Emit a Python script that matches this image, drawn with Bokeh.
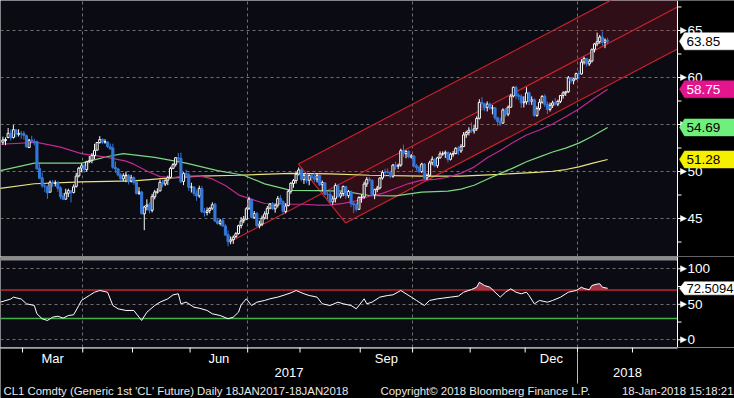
import numpy as np
from bokeh.plotting import figure
from bokeh.layouts import column
from bokeh.models import Range1d, FixedTicker
from bokeh.core.properties import value
from bokeh.embed import file_html
from bokeh.resources import INLINE

# ---------------- data (trading-day index 0 = 16 Feb 2017) ----------------
opens = [53.11, 53.30, 53.62, 54.08, 53.62, 54.43, 53.96, 54.04, 54.05, 53.81,
         52.55, 53.36, 53.19, 53.17, 50.31, 49.34, 48.44, 48.38, 47.80, 48.85,
         48.74, 48.80, 48.26, 47.39, 47.06, 47.69, 47.94, 47.77, 48.42, 49.54,
         50.36, 50.61, 50.20, 51.04, 51.20, 51.69, 52.27, 53.07, 53.42, 53.12,
         53.13, 52.64, 52.50, 50.44, 50.28, 49.64, 49.22, 49.55, 49.60, 48.99,
         49.35, 48.87, 47.68, 47.83, 45.50, 46.30, 46.50, 45.87, 47.31, 47.80,
         47.93, 48.84, 48.67, 49.08, 49.38, 50.34, 50.76, 51.46, 51.40, 48.94,
         49.80, 49.66, 48.33, 48.34, 47.67, 47.42, 48.17, 45.75, 45.65, 45.86,
         46.10, 46.52, 44.73, 44.48, 44.78, 44.20, 43.28, 42.60, 42.75, 43.08,
         43.40, 44.26, 44.77, 44.94, 46.09, 47.05, 45.12, 45.55, 44.22, 44.41,
         45.08, 45.50, 46.10, 46.55, 46.03, 46.42, 47.15, 46.80, 45.75, 46.38,
         47.90, 48.72, 49.03, 49.72, 50.18, 49.15, 49.62, 49.07, 49.59, 49.40,
         49.20, 49.57, 48.60, 48.80, 47.59, 47.56, 46.78, 47.10, 48.49, 47.38,
         47.66, 48.40, 47.44, 47.86, 46.60, 46.46, 45.98, 47.24, 47.30, 48.68,
         49.19, 49.08, 47.50, 48.08, 48.25, 49.32, 49.90, 49.92, 49.93, 49.50,
         50.70, 50.56, 50.69, 52.23, 51.90, 52.15, 51.55, 51.65, 50.60, 50.44,
         50.00, 50.80, 49.30, 49.60, 50.93, 51.31, 50.62, 51.46, 51.88, 51.90,
         52.05, 51.30, 51.85, 51.91, 52.48, 52.19, 52.66, 53.91, 54.16, 54.40,
         54.32, 54.56, 55.66, 57.36, 57.21, 56.82, 57.18, 56.75, 56.77, 55.71,
         55.34, 55.15, 56.56, 56.10, 56.84, 58.03, 58.96, 58.12, 58.00, 57.31,
         57.41, 58.37, 57.48, 57.63, 55.97, 56.70, 57.37, 58.00, 57.15, 56.61,
         57.05, 57.31, 57.17, 57.47, 58.10, 58.37, 58.48, 59.98, 59.65, 59.85,
         60.43, 60.38, 61.64, 62.02, 61.45, 61.74, 63.00, 63.58, 63.81, 64.31,
         63.74, 63.96]
highs = [53.70, 53.63, 54.62, 54.45, 54.94, 54.52, 54.49, 54.32, 54.30, 53.92,
         53.47, 53.80, 53.49, 53.30, 50.78, 49.90, 48.70, 48.54, 49.04, 49.10,
         49.06, 48.99, 48.44, 47.72, 48.17, 48.17, 48.04, 48.62, 49.85, 50.48,
         50.85, 50.86, 51.14, 51.66, 51.96, 52.94, 53.13, 53.76, 53.52, 53.44,
         53.20, 52.99, 52.95, 51.05, 50.34, 49.84, 49.81, 49.98, 49.72, 49.65,
         49.48, 48.98, 48.34, 47.94, 46.37, 47.04, 46.71, 47.63, 48.04, 48.22,
         49.12, 49.10, 49.15, 49.56, 50.51, 50.91, 51.51, 51.97, 52.00, 49.93,
         50.20, 49.90, 48.80, 48.44, 48.06, 48.49, 48.45, 46.13, 46.18, 46.21,
         46.72, 46.67, 45.00, 44.96, 45.05, 44.41, 43.73, 43.09, 43.20, 43.55,
         44.34, 45.15, 45.27, 46.21, 47.32, 47.12, 45.80, 45.68, 44.76, 45.32,
         45.76, 46.33, 46.65, 46.74, 46.56, 47.40, 47.49, 46.95, 46.61, 48.06,
         48.86, 49.20, 49.95, 50.43, 50.40, 49.75, 49.84, 49.71, 49.73, 49.87,
         49.79, 49.67, 49.04, 48.86, 47.82, 48.04, 47.42, 48.74, 48.70, 47.81,
         48.50, 48.48, 48.04, 47.99, 46.78, 46.70, 47.36, 47.57, 48.93, 49.40,
         49.42, 49.14, 48.17, 48.48, 49.38, 50.12, 50.29, 50.32, 50.07, 50.79,
         51.02, 50.84, 52.43, 52.86, 52.28, 52.25, 51.85, 51.72, 50.79, 50.64,
         50.93, 50.90, 49.80, 51.14, 51.61, 51.40, 51.57, 52.14, 52.14, 52.23,
         52.09, 52.02, 52.20, 52.59, 52.71, 52.91, 54.20, 54.34, 54.70, 55.22,
         54.98, 55.87, 57.69, 57.92, 57.33, 57.46, 57.33, 57.07, 56.88, 55.82,
         55.72, 56.72, 56.76, 57.03, 58.25, 59.05, 59.12, 58.31, 58.23, 58.00,
         58.96, 58.51, 57.99, 57.79, 56.94, 57.71, 58.12, 58.21, 57.45, 57.32,
         57.53, 57.82, 57.64, 58.13, 58.55, 58.58, 60.16, 60.05, 59.96, 60.51,
         60.74, 61.95, 62.21, 62.04, 61.97, 63.09, 63.67, 64.77, 64.53, 64.89,
         64.15, 64.23]
lows = [52.83, 52.80, 53.55, 53.30, 53.50, 53.64, 53.72, 53.48, 53.41, 52.55,
        52.50, 53.05, 52.78, 50.22, 49.18, 48.25, 47.81, 47.09, 47.78, 48.36,
        48.41, 47.85, 47.06, 47.01, 47.00, 47.29, 46.71, 47.67, 48.29, 49.38,
        49.92, 49.87, 49.99, 50.89, 50.88, 51.33, 52.22, 52.98, 52.91, 52.96,
        52.50, 52.30, 50.28, 49.85, 49.47, 48.98, 48.98, 48.86, 48.63, 48.84,
        48.59, 47.56, 47.50, 45.39, 43.76, 45.86, 45.55, 45.65, 47.04, 47.64,
        47.91, 48.32, 48.46, 48.55, 49.27, 50.25, 50.53, 51.05, 48.76, 48.55,
        49.33, 47.95, 47.76, 47.38, 46.88, 47.20, 45.58, 45.20, 45.33, 45.55,
        45.92, 44.60, 44.35, 44.26, 44.13, 43.20, 42.05, 42.26, 42.30, 42.94,
        43.30, 43.95, 44.51, 44.88, 45.90, 45.02, 44.97, 44.14, 43.95, 44.19,
        44.90, 44.91, 45.98, 45.95, 45.62, 46.17, 46.50, 45.40, 45.55, 46.28,
        47.63, 48.27, 48.72, 49.58, 48.94, 48.69, 48.74, 48.54, 49.04, 48.89,
        48.84, 48.45, 47.88, 47.48, 47.04, 46.61, 46.47, 46.70, 47.19, 47.15,
        47.37, 47.08, 47.19, 46.21, 45.58, 45.75, 45.94, 46.68, 47.12, 48.36,
        48.91, 47.35, 47.06, 47.80, 48.09, 49.14, 49.43, 49.75, 49.28, 49.33,
        50.20, 50.27, 50.50, 51.57, 51.41, 51.40, 51.38, 50.42, 50.10, 49.83,
        49.84, 49.11, 49.10, 49.44, 50.66, 50.44, 50.39, 51.37, 51.67, 51.44,
        50.97, 51.17, 51.57, 51.83, 51.76, 51.99, 52.59, 53.58, 53.84, 54.12,
        54.02, 54.33, 55.54, 56.71, 56.42, 56.39, 56.54, 56.08, 55.46, 54.85,
        54.86, 55.09, 55.84, 55.88, 56.79, 57.88, 57.69, 57.63, 56.75, 56.81,
        57.12, 57.05, 57.09, 55.82, 55.82, 56.49, 57.22, 56.87, 56.10, 56.38,
        56.76, 57.00, 56.95, 57.28, 57.75, 58.04, 58.36, 59.33, 59.27, 59.78,
        59.82, 60.30, 61.38, 61.16, 61.23, 61.60, 62.66, 63.33, 63.59, 63.38,
        63.12, 63.54]
closes = [53.36, 53.40, 54.06, 53.59, 54.45, 53.99, 54.05, 54.01, 53.83, 52.61,
          53.33, 53.20, 53.14, 50.28, 49.28, 48.49, 48.40, 47.72, 48.86, 48.75,
          48.78, 48.22, 47.34, 47.04, 47.70, 47.97, 47.73, 48.37, 49.51, 50.35,
          50.60, 50.24, 51.03, 51.15, 51.70, 52.24, 53.08, 53.40, 53.11, 53.18,
          52.65, 52.41, 50.44, 50.27, 49.62, 49.23, 49.56, 49.62, 48.97, 49.33,
          48.84, 47.66, 47.82, 45.52, 46.22, 46.43, 45.88, 47.33, 47.83, 47.84,
          48.85, 48.66, 49.07, 49.35, 50.33, 50.73, 51.47, 51.36, 48.90, 49.80,
          49.66, 48.32, 48.36, 47.66, 47.40, 48.19, 45.72, 45.64, 45.83, 46.08,
          46.46, 44.73, 44.46, 44.74, 44.20, 43.23, 42.53, 42.74, 43.01, 43.38,
          44.24, 44.74, 44.93, 46.04, 47.07, 45.13, 45.52, 44.23, 44.40, 45.04,
          45.49, 46.08, 46.54, 46.02, 46.40, 47.12, 46.79, 45.77, 46.34, 47.89,
          48.75, 49.04, 49.71, 50.17, 49.16, 49.59, 49.03, 49.58, 49.39, 49.17,
          49.56, 48.59, 48.82, 47.59, 47.55, 46.78, 47.09, 48.51, 47.37, 47.64,
          48.41, 47.43, 47.87, 46.57, 46.44, 45.96, 47.23, 47.29, 48.66, 49.16,
          49.09, 47.48, 48.07, 48.23, 49.30, 49.89, 49.89, 49.91, 49.48, 50.69,
          50.55, 50.66, 52.22, 51.88, 52.14, 51.56, 51.67, 50.58, 50.42, 49.98,
          50.79, 49.29, 49.58, 50.92, 51.30, 50.60, 51.45, 51.87, 51.88, 52.04,
          51.29, 51.84, 51.90, 52.47, 52.18, 52.64, 53.90, 54.15, 54.38, 54.30,
          54.54, 55.64, 57.35, 57.20, 56.81, 57.17, 56.74, 56.76, 55.70, 55.33,
          55.14, 56.55, 56.09, 56.83, 58.02, 58.95, 58.11, 57.99, 57.30, 57.40,
          58.36, 57.47, 57.62, 55.96, 56.69, 57.36, 57.99, 57.14, 56.60, 57.04,
          57.30, 57.16, 57.46, 58.09, 58.36, 58.47, 59.97, 59.64, 59.84, 60.42,
          60.37, 61.63, 62.01, 61.44, 61.73, 62.96, 63.57, 63.80, 64.30, 63.73,
          63.97, 63.85]

ma50_idx = [-1, 13, 22, 30, 40, 47, 50, 55, 60, 65, 70, 75, 80, 85, 90, 95, 100, 105,
            110, 115, 120, 125, 130, 135, 140, 145, 150, 155, 160, 165, 170, 175,
            180, 185, 190, 195, 200, 205, 210, 215, 220, 225, 231]
ma50_val = [52.9, 53.1, 52.6, 51.9, 51.5, 51.1, 50.78, 50.06, 49.46, 49.34, 49.51,
            49.54, 49.21, 48.51, 47.52, 47.04, 46.60, 46.57, 46.53, 46.52, 46.43,
            46.42, 46.61, 46.87, 47.37, 47.67, 48.19, 48.72, 49.08, 49.16, 49.39,
            49.83, 50.47, 51.47, 52.24, 53.11, 53.88, 54.41, 55.06, 55.82, 56.65,
            57.63, 58.75]
ma100_idx = [-1, 12, 30, 40, 46, 58, 70, 82, 92, 100, 110, 120, 130, 140, 150, 160,
             170, 175, 180, 185, 190, 195, 200, 205, 210, 215, 220, 225, 231]
ma100_val = [50.1, 50.9, 50.9, 51.6, 51.9, 51.5, 50.9, 50.1, 49.6, 48.69, 48.00,
             47.97, 47.91, 47.45, 47.40, 47.80, 47.91, 48.12, 48.54, 49.17, 49.80,
             50.39, 51.04, 51.56, 52.07, 52.49, 53.02, 53.73, 54.69]
ma200_idx = [-1, 12, 30, 50, 63, 75, 90, 110, 125, 140, 160, 175, 190, 200, 205,
             210, 215, 220, 225, 231]
ma200_val = [48.2, 48.7, 48.9, 49.0, 49.3, 49.5, 49.6, 49.8, 49.75, 49.6, 49.5,
             49.5, 49.7, 49.86, 49.94, 50.03, 50.21, 50.50, 50.86, 51.28]

rsi_idx = [-1, 3, 4, 7, 9, 12, 13, 15, 17, 19, 21, 23, 25, 27, 29, 30, 33, 35, 37,
           40, 42, 44, 47, 50, 52, 53, 55, 58, 60, 63, 65, 67, 68, 70, 73, 75, 78,
           80, 83, 86, 88, 90, 91, 93, 95, 97, 100, 102, 105, 107, 110, 112, 115,
           117, 120, 122, 125, 128, 130, 133, 135, 138, 139, 141, 144, 147, 149,
           152, 154, 156, 158, 159, 161, 163, 166, 168, 171, 174, 176, 179, 181,
           182, 184, 186, 188, 190, 192, 194, 196, 198, 200, 201, 203, 205, 208,
           210, 213, 216, 219, 221, 222, 224, 225, 227, 228, 229, 231]
rsi_val = [53.0, 57.4, 60.1, 57.4, 50.7, 48.3, 36.6, 29.6, 27.2, 31.9, 33.2, 30.5,
           34.2, 35.2, 48.3, 55.4, 62.4, 67.0, 69.4, 67.0, 48.3, 43.6, 41.3, 41.3,
           31.9, 27.2, 38.9, 48.3, 53.0, 57.7, 63.3, 64.8, 50.7, 53.0, 45.9, 44.5,
           41.3, 36.6, 34.2, 29.6, 31.9, 38.9, 49.2, 57.7, 48.3, 53.0, 55.4, 57.7,
           60.1, 62.4, 66.1, 69.4, 64.8, 62.4, 60.1, 50.7, 48.3, 53.0, 50.7, 48.3,
           43.6, 57.7, 50.7, 53.0, 60.1, 62.4, 63.3, 69.4, 64.8, 60.1, 55.4, 53.0,
           48.3, 55.4, 57.7, 58.6, 60.1, 61.5, 67.0, 70.8, 74.1, 81.0, 76.4, 74.1,
           67.0, 60.1, 67.0, 71.8, 67.0, 64.8, 67.0, 62.4, 50.7, 55.4, 53.0, 55.4,
           60.0, 67.0, 69.4, 74.1, 72.3, 70.5, 76.5, 78.5, 78.9, 74.1, 72.5094]

# channel (regression trend channel) parameters
CH_X0, CH_Y0, CH_SLOPE, CH_HALF = 86.2, 42.45, 0.146, 4.45
CH_UP_X0, CH_LO_X0 = 112.9, 130.9

# axis ticks / labels
month_bounds = [7.5, 30.5, 49.5, 71.5, 93.5, 113.5, 136.5, 156.5, 178.5, 199.5, 219.5, 240.5]
quarter_bounds = [30.5, 93.5, 156.5, 219.5]
month_label_pos = [19.0, 82.5, 146.5, 209.5]
month_labels = ["Mar", "Jun", "Sep", "Dec"]
year_bound = 219.5
year_labels = ["2017", "2018"]
price_ticks = [45, 50, 55, 60, 65]
price_minor = [42.5, 47.5, 52.5, 57.5, 62.5, 67.5]
rsi_ticks = [0, 50, 100]
rsi_minor = [25, 75]
RSI_HI, RSI_LO = 70, 30
last_labels = [("63.85", 63.85, "#ffffff", "#000000"),
               ("58.75", 58.75, "#e2158f", "#ffffff"),
               ("54.69", 54.69, "#6ff07c", "#000000"),
               ("51.28", 51.28, "#f6ef00", "#000000")]
rsi_last = ("72.5094", 72.5094)
footer_left = "CL1 Comdty (Generic 1st 'CL' Future)  Daily 18JAN2017-18JAN2018"
footer_mid = "Copyright\u00a9 2018 Bloomberg Finance L.P."
footer_right = "18-Jan-2018 15:18:21"

# ---------------- styling / layout ----------------
FONT = "Liberation Sans"
BG_PLOT = "#0b0b13"
BG = "#000000"
GRID = "#707070"
BLUE = "#3478d8"
RED = "#c8222c"
W, AXIS_W = 734, 57
H_MAIN, H_RSI, H_BOT = 256, 91, 51
X0, X1 = -0.92, 257.7                     # plotted (frame) part of the time axis
ppd = (W - AXIS_W) / (X1 - X0)            # pixels per trading day
XF = X0 + W / ppd                          # right edge of the canvas in data units
xr = Range1d(X0, XF)
P_LO, P_HI = 40.96, 68.19
R_LO, R_HI = -10.85, 117.3


def dx(px):
    return px / ppd


idx = np.arange(len(closes))
o = np.array(opens); h = np.array(highs); l = np.array(lows); c = np.array(closes)
up = c >= o
dn = ~up
body_top = np.maximum(o, c)
body_bot = np.minimum(o, c)


def base_fig(height, lo, hi, bg=BG_PLOT):
    f = figure(width=W, height=height, x_range=xr, y_range=Range1d(lo, hi),
               output_backend="svg", toolbar_location=None,
               y_axis_location=None, x_axis_location=None,
               min_border_left=0, min_border_right=0,
               min_border_top=0, min_border_bottom=0,
               background_fill_color=bg, border_fill_color=BG,
               outline_line_color=None)
    return f


def style_grid(f, yticks):
    f.xgrid.ticker = FixedTicker(ticks=quarter_bounds)
    f.xgrid.grid_line_color = GRID
    f.xgrid.grid_line_dash = "3 3"
    f.ygrid.ticker = FixedTicker(ticks=yticks)
    f.ygrid.grid_line_color = GRID
    f.ygrid.grid_line_dash = "3 3"


def right_axis(f, ticks, minor, lo, hi, upp, labels):
    # black axis strip, axis line, minor ticks, arrow-shaped major ticks, labels
    f.quad(left=[X1], right=[XF], bottom=[lo], top=[hi], fill_color=BG, line_color=None)
    f.segment([X1], [lo], [X1], [hi], line_color="white", line_width=1)
    n_m = len(minor)
    f.segment([X1] * n_m, minor, [X1 + dx(4)] * n_m, minor, line_color="white", line_width=1)
    n = len(ticks)
    f.segment([X1] * n, ticks, [X1 + dx(4)] * n, ticks, line_color="white", line_width=1)
    f.patches([[X1 + dx(3), X1 + dx(9), X1 + dx(3)] for _ in ticks],
              [[t + 3 * upp, t, t - 3 * upp] for t in ticks],
              fill_color="white", line_color="white", line_width=0.5)
    f.text([X1 + dx(10)] * n, ticks, text=labels, text_color="white",
           text_font=value(FONT), text_font_size="13.5px",
           text_align="left", text_baseline="middle")


def value_box(f, text, y, bg, fg, hpx, upp, size):
    half = hpx / 2 * upp
    f.patch([X1 + dx(2), X1 + dx(7), XF, XF, X1 + dx(7)],
            [y, y + half, y + half, y - half, y - half],
            fill_color=bg, line_color=bg, line_width=0.5)
    f.text([X1 + dx(9)], [y], text=[text], text_color=fg, text_font=value(FONT),
           text_font_size=size, text_align="left", text_baseline="middle")


# ---------------- main price panel ----------------
p1 = base_fig(H_MAIN, P_LO, P_HI)
style_grid(p1, price_ticks)
upp1 = (P_HI - P_LO) / H_MAIN


def ch_mid(x):
    return CH_Y0 + CH_SLOPE * (x - CH_X0)


p1.patch([CH_UP_X0, X1, X1, CH_LO_X0],
         [ch_mid(CH_UP_X0) + CH_HALF, ch_mid(X1) + CH_HALF,
          ch_mid(X1) - CH_HALF, ch_mid(CH_LO_X0) - CH_HALF],
         fill_color="#d01e2c", fill_alpha=0.18, line_color=RED, line_width=1.2)
p1.line([CH_X0, X1], [ch_mid(CH_X0), ch_mid(X1)], line_color=RED, line_width=1.2)

p1.line(ma200_idx, ma200_val, line_color="#e9e57c", line_width=1.2)
p1.line(ma100_idx, ma100_val, line_color="#7dd882", line_width=1.2)
p1.line(ma50_idx, ma50_val, line_color="#c2288e", line_width=1.2)

for mask, col, fill in ((up, "white", BG_PLOT), (dn, BLUE, BLUE)):
    p1.segment(idx[mask], l[mask], idx[mask], body_bot[mask], line_color=col, line_width=1)
    p1.segment(idx[mask], body_top[mask], idx[mask], h[mask], line_color=col, line_width=1)
    p1.vbar(x=idx[mask], width=0.8, bottom=body_bot[mask], top=body_top[mask],
            fill_color=fill, line_color=col, line_width=1)

right_axis(p1, price_ticks, price_minor, P_LO, P_HI, upp1, [str(t) for t in price_ticks])
for txt, yv, bg, fg in last_labels:
    value_box(p1, txt, yv, bg, fg, 17, upp1, "13.5px")

# ---------------- RSI panel ----------------
p2 = base_fig(H_RSI, R_LO, R_HI)
style_grid(p2, rsi_ticks)
upp2 = (R_HI - R_LO) / H_RSI
p2.quad(left=[X0], right=[X1], bottom=[R_HI - 4 * upp2], top=[R_HI],
        fill_color="#8c8c8c", line_color=None)
p2.segment([X0], [RSI_HI], [X1], [RSI_HI], line_color=RED, line_width=1.5)
p2.segment([X0], [RSI_LO], [X1], [RSI_LO], line_color="#45b04c", line_width=1.5)
rv = np.array(rsi_val)
p2.varea(x=rsi_idx, y1=np.full(len(rv), RSI_HI), y2=np.maximum(rv, RSI_HI),
         fill_color="#a33a4c", fill_alpha=0.95)
p2.line(rsi_idx, rsi_val, line_color="white", line_width=1)
right_axis(p2, rsi_ticks, rsi_minor, R_LO, R_HI, upp2, [str(t) for t in rsi_ticks])
value_box(p2, rsi_last[0], rsi_last[1], "#ffffff", "#000000", 13, upp2, "13px")

# ---------------- bottom date axis / footer ----------------
p3 = base_fig(H_BOT, H_BOT, 0, bg=BG)
p3.xgrid.visible = False
p3.ygrid.visible = False
p3.segment([X0], [0.5], [X1], [0.5], line_color="white", line_width=1)
p3.segment(month_bounds, [0] * len(month_bounds), month_bounds, [5] * len(month_bounds),
           line_color="white", line_width=1)
p3.segment([year_bound], [5], [year_bound], [36], line_color="#bbbbbb", line_width=1)
p3.text(month_label_pos, [11] * len(month_labels), text=month_labels,
        text_color="white", text_font=value(FONT), text_font_size="13px",
        text_align="center", text_baseline="middle")
p3.text([(X0 + year_bound) / 2, (year_bound + X1) / 2], [25, 25], text=year_labels,
        text_color="white", text_font=value(FONT), text_font_size="13px",
        text_align="center", text_baseline="middle")
for txt, px, align in ((footer_left, 3, "left"), (footer_mid, 380, "left"),
                       (footer_right, 733, "right")):
    p3.text([X0 + dx(px)], [43], text=[txt], text_color="#e8e8e8",
            text_font=value(FONT), text_font_size="11.4px", text_align=align,
            text_baseline="middle")

layout = column(p1, p2, p3, spacing=0)
open("out.html", "w").write(file_html(layout, INLINE))
